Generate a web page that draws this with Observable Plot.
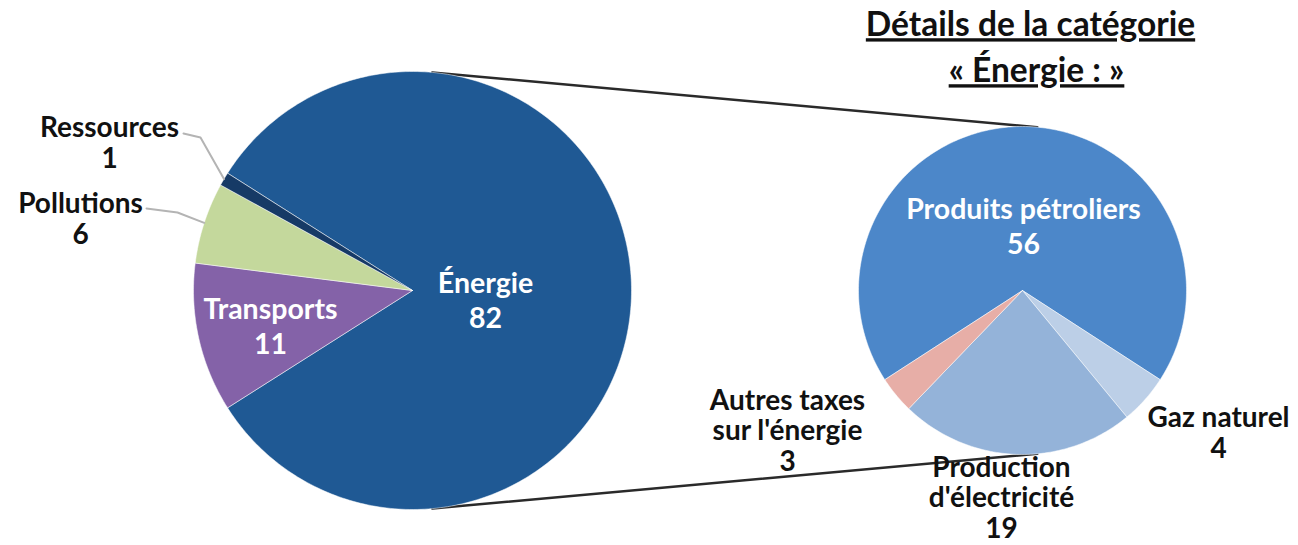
<!DOCTYPE html>
<html><head><meta charset="utf-8">
<script src="https://cdn.jsdelivr.net/npm/d3@7"></script>
<script src="https://cdn.jsdelivr.net/npm/@observablehq/plot@0.6"></script>
<style>body{margin:0;background:#fff}</style>
</head><body><div id="chart"></div>
<script>
// ---------- data ----------
const mainCategories = ["Énergie", "Transports", "Pollutions", "Ressources"];
const mainValues = [82, 11, 6, 1];
const energyCategories = ["Produits pétroliers", "Gaz naturel", "Production d'électricité", "Autres taxes sur l'énergie"];
const energyValues = [56, 4, 19, 3];
const titleLines = ["Détails de la catégorie", "« Énergie : »"];

// ---------- styles / layout ----------
const W = 1298, H = 545;
const palette = {
  "Énergie": "#1f5994", "Transports": "#8462a8", "Pollutions": "#c4d89c", "Ressources": "#163a66",
  "Produits pétroliers": "#4c87c9", "Gaz naturel": "#bccfe7", "Production d'électricité": "#94b3d9", "Autres taxes sur l'énergie": "#e7aea7"
};
const leftPie = {cx: 412, cy: 290, r: 219};
const rightPie = {cx: 1022, cy: 290, r: 164};
const labelText = {
  "Énergie": "Énergie", "Transports": "Transports", "Pollutions": "Pollutions", "Ressources": "Ressources",
  "Produits pétroliers": "Produits pétroliers", "Gaz naturel": "Gaz naturel",
  "Production d'électricité": "Production\nd'électricité", "Autres taxes sur l'énergie": "Autres taxes\nsur l'énergie"
};
const labelPos = {
  "Énergie": {x: 485, y: 299, inside: true},
  "Transports": {x: 270, y: 325, inside: true},
  "Pollutions": {x: 80, y: 218},
  "Ressources": {x: 109, y: 142},
  "Produits pétroliers": {x: 1023, y: 225, inside: true},
  "Gaz naturel": {x: 1218, y: 432},
  "Production d'électricité": {x: 1001, y: 497},
  "Autres taxes sur l'énergie": {x: 787, y: 430}
};
const leaders = {
  "Ressources": {sx: 183, sy: 133, ex: 200, ey: 137},
  "Pollutions": {sx: 146, sy: 208, ex: 177, ey: 212}
};

function slices(cats, vals, pie) {
  const total = d3.sum(vals);
  const centerAngle = pie === leftPie ? Math.PI / 2 : 0;
  const start = centerAngle - vals[0] / total * Math.PI;
  const arcs = d3.pie().sort(null).startAngle(start).endAngle(start + 2 * Math.PI)(vals);
  const pts = [];
  arcs.forEach((a, i) => {
    const name = cats[i];
    pts.push({name, x: pie.cx, y: pie.cy});
    const n = Math.max(2, Math.ceil((a.endAngle - a.startAngle) * 180 / Math.PI));
    for (let k = 0; k <= n; k++) {
      const t = a.startAngle + (a.endAngle - a.startAngle) * k / n;
      pts.push({name, x: pie.cx + pie.r * Math.sin(t), y: pie.cy - pie.r * Math.cos(t)});
    }
    pts.push({name, x: pie.cx, y: pie.cy});
  });
  return {pts, arcs};
}
const L = slices(mainCategories, mainValues, leftPie);
const R = slices(energyCategories, energyValues, rightPie);

// external tangents between the two pies
const d = rightPie.cx - leftPie.cx;
const phi = Math.asin((leftPie.r - rightPie.r) / d);
const connectors = [];
[-1, 1].forEach((s, j) => {
  const nx = Math.sin(phi), ny = s * Math.cos(phi);
  connectors.push({k: j, x: leftPie.cx + leftPie.r * nx, y: leftPie.cy + leftPie.r * ny});
  connectors.push({k: j, x: rightPie.cx + rightPie.r * nx, y: rightPie.cy + rightPie.r * ny});
});

// leader lines
const leaderPts = [];
Object.entries(leaders).forEach(([name, l]) => {
  const i = mainCategories.indexOf(name);
  const a = L.arcs[i];
  const m = (a.startAngle + a.endAngle) / 2;
  leaderPts.push({name, x: l.sx, y: l.sy}, {name, x: l.ex, y: l.ey},
    {name, x: leftPie.cx + leftPie.r * Math.sin(m), y: leftPie.cy - leftPie.r * Math.cos(m)});
});

const labels = [
  ...mainCategories.map((c, i) => ({name: c, value: mainValues[i]})),
  ...energyCategories.map((c, i) => ({name: c, value: energyValues[i]}))
].map(d => ({...d, text: labelText[d.name] + "\n" + d.value, ...labelPos[d.name]}));
const insideLabels = labels.filter(d => d.inside);
const outsideLabels = labels.filter(d => !d.inside);

const titles = titleLines.map((t, i) => ({text: t, x: i === 0 ? 1030 : 1036, y: i === 0 ? 25 : 71}));

const chart = Plot.plot({
  width: W, height: H, margin: 0,
  x: {domain: [0, W], range: [0, W], axis: null},
  y: {domain: [0, H], range: [0, H], axis: null},
  color: {type: "identity"},
  style: {fontFamily: "Lato, sans-serif", background: "#fff"},
  marks: [
    Plot.line(connectors, {x: "x", y: "y", z: "k", stroke: "#2a2a2a", strokeWidth: 2.5}),
    Plot.line(L.pts, {x: "x", y: "y", z: "name", fill: d => palette[d.name], stroke: "white", strokeOpacity: 0.5, strokeWidth: 1}),
    Plot.line(R.pts, {x: "x", y: "y", z: "name", fill: d => palette[d.name], stroke: "white", strokeOpacity: 0.5, strokeWidth: 1}),
    Plot.line(leaderPts, {x: "x", y: "y", z: "name", stroke: "#b4b4b4", strokeWidth: 2}),
    Plot.text(insideLabels, {x: "x", y: "y", text: "text", fill: "#ffffff",
      fontSize: 28.5, fontWeight: "bold", lineHeight: 1.2, lineAnchor: "middle", textAnchor: "middle"}),
    Plot.text(outsideLabels, {x: "x", y: "y", text: "text", fill: "#111111",
      fontSize: 28, fontWeight: "bold", lineHeight: 1.1, lineAnchor: "middle", textAnchor: "middle"}),
    Plot.text(titles, {x: "x", y: "y", text: "text", fill: "#111", fontSize: 33.5, fontWeight: "bold",
      lineAnchor: "middle", textAnchor: "middle", ariaDescription: "title"})
  ]
});
chart.querySelectorAll('[aria-description="title"] text').forEach(t => t.style.textDecoration = "underline");
document.getElementById("chart").appendChild(chart);
</script>
</body></html>
